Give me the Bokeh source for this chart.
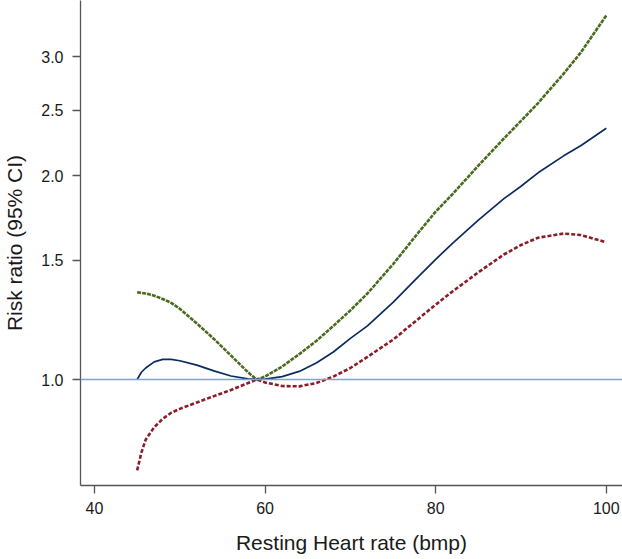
from bokeh.plotting import figure
from bokeh.models import Range1d, FixedTicker, PrintfTickFormatter, Span
from bokeh.embed import file_html
from bokeh.resources import INLINE

# Resting heart rate (bpm)
heart_rate = [45, 45.5, 46, 47, 48, 49, 50, 52, 54, 56, 58, 59, 60, 62, 64, 66, 68,
              70, 72, 75, 78, 80, 82, 85, 88, 90, 92, 95, 97, 100]
# Risk ratio point estimate
rr_est = [1.00, 1.025, 1.040, 1.062, 1.071, 1.071, 1.066, 1.050, 1.030, 1.012, 1.002,
          1.000, 1.001, 1.010, 1.028, 1.058, 1.098, 1.150, 1.200, 1.300, 1.420, 1.505,
          1.590, 1.720, 1.850, 1.930, 2.020, 2.140, 2.215, 2.350]
# Upper 95% CI
rr_upper = [1.345, 1.343, 1.340, 1.330, 1.315, 1.298, 1.272, 1.210, 1.148, 1.085, 1.025,
            1.000, 1.010, 1.045, 1.090, 1.140, 1.200, 1.265, 1.340, 1.480, 1.650, 1.770,
            1.880, 2.070, 2.270, 2.410, 2.560, 2.830, 3.040, 3.450]
# Lower 95% CI
rr_lower = [0.734, 0.780, 0.815, 0.850, 0.875, 0.893, 0.905, 0.925, 0.945, 0.965, 0.988,
            1.000, 0.990, 0.978, 0.977, 0.988, 1.010, 1.040, 1.080, 1.145, 1.230, 1.290,
            1.350, 1.440, 1.530, 1.580, 1.620, 1.643, 1.635, 1.595]

x_ticks = [40, 60, 80, 100]
y_ticks = [1.0, 1.5, 2.0, 2.5, 3.0]

p = figure(frame_width=542, frame_height=485, output_backend="svg", toolbar_location=None,
           y_axis_type="log",
           x_range=Range1d(38.36, 101.9), y_range=Range1d(0.6973, 3.63),
           min_border_left=78, min_border_right=2, min_border_top=0, min_border_bottom=74)

p.outline_line_color = None
p.xgrid.visible = False
p.ygrid.visible = False
p.background_fill_color = "white"
p.border_fill_color = "white"

ref = Span(location=1.0, dimension="width", line_color="#7fa1d4", line_width=1.3)
p.add_layout(ref)

p.line(heart_rate, rr_upper, line_color="#4a6b1f", line_width=2.6, line_dash="4 1")
p.line(heart_rate, rr_lower, line_color="#8b1d26", line_width=2.6, line_dash="4 2")
p.line(heart_rate, rr_est, line_color="#0c2b5e", line_width=1.7)

for ax in (p.xaxis[0], p.yaxis[0]):
    ax.axis_line_color = "#555555"
    ax.axis_line_width = 1.3
    ax.major_tick_line_color = "#555555"
    ax.major_tick_line_width = 1.3
    ax.major_tick_out = 8
    ax.major_tick_in = 0
    ax.minor_tick_line_color = None
    ax.major_label_text_font = "Liberation Sans"
    ax.major_label_text_font_size = "16px"
    ax.major_label_text_color = "#1a1a1a"
    ax.axis_label_text_font = "Liberation Sans"
    ax.axis_label_text_font_size = "21px"
    ax.axis_label_text_font_style = "normal"
    ax.axis_label_text_color = "#1a1a1a"

p.xaxis.major_label_standoff = 8
p.yaxis.major_label_standoff = 9
p.xaxis.ticker = FixedTicker(ticks=x_ticks)
p.yaxis.ticker = FixedTicker(ticks=y_ticks)
p.yaxis.formatter = PrintfTickFormatter(format="%.1f")
p.xaxis.axis_label = "Resting Heart rate (bmp)"
p.yaxis.axis_label = "Risk ratio (95% CI)"
p.xaxis.axis_label_standoff = 14
p.yaxis.axis_label_standoff = 12

open("out.html", "w").write(file_html(p, INLINE))
